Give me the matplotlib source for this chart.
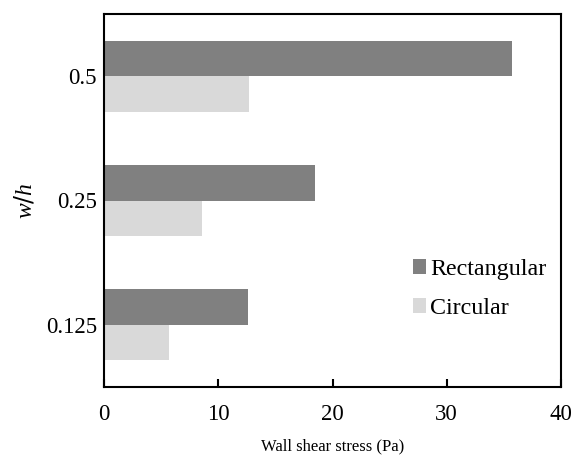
# --- горизонтальна стовпчикова діаграма: напруження зсуву на стінці ---

import numpy as np
import matplotlib.pyplot as plt

# ----- вхідні дані
ratios = ['0.125', '0.25', '0.5']
rectangular = [12.6, 18.5, 35.7]
circular = [5.7, 8.6, 12.7]

plt.rcParams['font.family'] = ['Liberation Serif', 'DejaVu Serif']
plt.rcParams['mathtext.fontset'] = 'custom'
plt.rcParams['mathtext.it'] = 'Liberation Serif:italic'

fig = plt.figure(figsize=(5.74, 4.62), dpi=100)
ax = fig.add_axes([104 / 574, 1 - 387 / 462, 457 / 574, 373 / 462])

y = np.arange(len(ratios))
h = 0.285
ax.barh(y + h / 2, rectangular, height=h, color='#808080', label='Rectangular')
ax.barh(y - h / 2, circular, height=h, color='#d9d9d9', label='Circular')

# ----- осі
ax.set_xlim(0, 40)
ax.set_ylim(-0.5, 2.5)
ax.set_xticks([0, 10, 20, 30, 40])
ax.set_yticks(y)
ax.set_yticklabels(ratios)
ax.tick_params(axis='x', direction='in', length=6, width=1.5, pad=12, labelsize=16.5)
ax.tick_params(axis='y', length=0, pad=5, labelsize=16.5)
for s in ax.spines.values():
    s.set_linewidth(1.5)

ax.set_xlabel('Wall shear stress (Pa)', fontsize=12, labelpad=10)
ax.set_ylabel('$w/h$', fontsize=17, labelpad=7)

# ----- легенда
ax.legend(loc='upper left', bbox_to_anchor=(413 / 574, 1 - 259 / 462),
          bbox_transform=fig.transFigure, frameon=False, fontsize=17.3,
          handlelength=0.55, handleheight=0.55, handletextpad=0.15,
          borderpad=0, borderaxespad=0, labelspacing=0.75)

fig.savefig('out.png', dpi=100)
